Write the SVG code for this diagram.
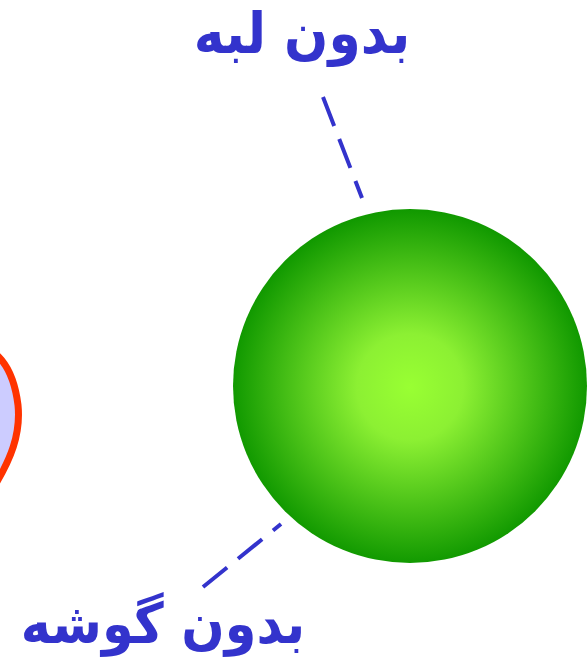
<svg xmlns="http://www.w3.org/2000/svg" width="587" height="667" viewBox="0 0 587 667">
<defs>
<radialGradient id="g" cx="410" cy="387" r="177" gradientUnits="userSpaceOnUse">
<stop offset="0" stop-color="#99ff33"/>
<stop offset="0.3" stop-color="#8cf033"/>
<stop offset="1" stop-color="#119900"/>
</radialGradient>
<style>
.lbl{font-family:"DejaVu Sans",sans-serif;font-weight:bold;font-size:52px;fill:#3333cc;text-anchor:middle}
.conn{stroke:#3333cc;stroke-width:4;stroke-dasharray:31 14;fill:none}
</style>
</defs>
<g id="blob">
<path d="M -30,345 C -5,345 13,365 18,405 C 21,435 10,460 -5,485" fill="#ccccff" stroke="#ff3300" stroke-width="7"/>
</g>
<g id="sphere">
<circle cx="410" cy="386" r="177" fill="url(#g)"/>
</g>
<g id="connectors">
<line class="conn" x1="323" y1="97" x2="362" y2="198"/>
<line class="conn" x1="203" y1="587" x2="281" y2="524"/>
</g>
<g id="label-top">
<text class="lbl" transform="translate(302,53) scale(1,1.1)">بدون لبه</text>
</g>
<g id="label-bottom">
<text class="lbl" transform="translate(163,643) scale(1,1.1)" style="font-size:51px">بدون گوشه</text>
</g>
</svg>
